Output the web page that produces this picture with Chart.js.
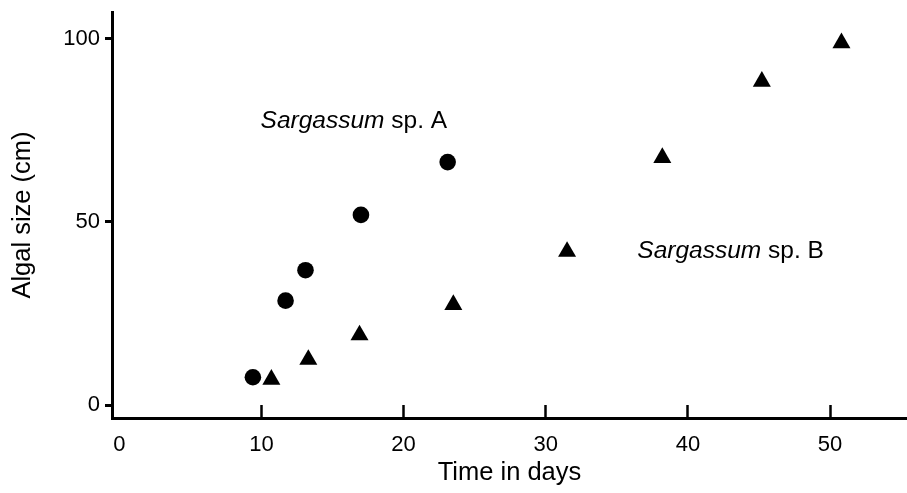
<!DOCTYPE html>
<html>
<head>
<meta charset="utf-8">
<script src="https://cdn.jsdelivr.net/npm/chart.js@4.4.0/dist/chart.umd.min.js"></script>
<style>
  html, body { margin: 0; padding: 0; background: #ffffff; }
  #wrap { width: 907px; height: 493px; position: relative; }
</style>
</head>
<body>
<div id="wrap"><canvas id="c" width="907" height="493"></canvas></div>
<script>
// ---- data ----
const xTickValues = [0, 10, 20, 30, 40, 50];
const yTickValues = [0, 50, 100];

const speciesA_days = [9.4, 11.7, 13.1, 17.0, 23.1];
const speciesA_size = [7.6, 28.5, 36.8, 51.9, 66.3];

const speciesB_days = [10.7, 13.3, 16.9, 23.5, 31.5, 38.2, 45.2, 50.8];
const speciesB_size = [7.0, 12.4, 19.1, 27.4, 41.9, 67.5, 88.3, 98.8];

const xTitle = 'Time in days';
const yTitle = 'Algal size (cm)';
const labelA = ['Sargassum', ' sp. A'];
const labelB = ['Sargassum', ' sp. B'];

// ---- build chart ----
const FONT = '"Liberation Sans", Arial, Helvetica, sans-serif';
const toPoints = (xs, ys) => xs.map((x, i) => ({ x: x, y: ys[i] }));

const annotations = [
  { x: 16.5, y: 77.5, parts: labelA },
  { x: 43.0, y: 42.0, parts: labelB }
];

const textPlugin = {
  id: 'speciesLabels',
  afterDatasetsDraw(chart) {
    const ctx = chart.ctx;
    const xs = chart.scales.x, ys = chart.scales.y;
    ctx.save();
    ctx.fillStyle = '#000';
    ctx.textBaseline = 'middle';
    ctx.textAlign = 'left';
    const fItal = 'italic 24.5px ' + FONT;
    const fNorm = '24.5px ' + FONT;
    annotations.forEach(a => {
      ctx.font = fItal;
      const w1 = ctx.measureText(a.parts[0]).width;
      ctx.font = fNorm;
      const w2 = ctx.measureText(a.parts[1]).width;
      const cx = xs.getPixelForValue(a.x);
      const cy = ys.getPixelForValue(a.y);
      const left = cx - (w1 + w2) / 2;
      ctx.font = fItal;
      ctx.fillText(a.parts[0], left, cy);
      ctx.font = fNorm;
      ctx.fillText(a.parts[1], left + w1, cy);
    });
    ctx.restore();
  }
};

new Chart(document.getElementById('c'), {
  type: 'scatter',
  data: {
    datasets: [
      {
        label: 'Sargassum sp. A',
        data: toPoints(speciesA_days, speciesA_size),
        pointStyle: 'circle',
        pointRadius: 8.3,
        pointHoverRadius: 8.3,
        backgroundColor: '#000',
        borderColor: '#000',
        borderWidth: 0
      },
      {
        label: 'Sargassum sp. B',
        data: toPoints(speciesB_days, speciesB_size),
        pointStyle: 'triangle',
        pointRadius: 10.4,
        pointHoverRadius: 10.4,
        backgroundColor: '#000',
        borderColor: '#000',
        borderWidth: 0
      }
    ]
  },
  options: {
    responsive: false,
    devicePixelRatio: 1,
    animation: false,
    layout: { autoPadding: false, padding: { top: 12, left: 0, right: 0, bottom: 0 } },
    plugins: {
      legend: { display: false },
      tooltip: { enabled: false }
    },
    scales: {
      x: {
        type: 'linear',
        min: -0.51,
        max: 55.41,
        afterBuildTicks: s => { s.ticks = xTickValues.map(v => ({ value: v })); },
        afterFit: s => { s.height = 75; s.paddingLeft = 0; s.paddingRight = 0; },
        border: { display: true, color: '#000', width: 3 },
        grid: {
          drawOnChartArea: false,
          drawTicks: true,
          tickLength: -13,
          tickWidth: 2.5,
          tickColor: c => (c.tick && c.tick.value === 0) ? 'rgba(0,0,0,0)' : '#000'
        },
        ticks: {
          color: '#000',
          font: { family: FONT, size: 22 },
          padding: 27,
          maxRotation: 0,
          autoSkip: false
        },
        title: {
          display: true,
          text: xTitle,
          color: '#000',
          font: { family: FONT, size: 25.5 },
          padding: { top: 0, bottom: 5 }
        }
      },
      y: {
        type: 'linear',
        min: -3.52,
        max: 107.26,
        afterBuildTicks: s => { s.ticks = yTickValues.map(v => ({ value: v })); },
        afterFit: s => { s.width = 112; s.paddingTop = 0; s.paddingBottom = 0; },
        border: { display: true, color: '#000', width: 3 },
        grid: {
          drawOnChartArea: false,
          drawTicks: true,
          tickLength: 7,
          tickWidth: 3,
          tickColor: '#000'
        },
        ticks: {
          color: '#000',
          font: { family: FONT, size: 22 },
          padding: 5
        },
        title: {
          display: true,
          text: yTitle,
          color: '#000',
          font: { family: FONT, size: 25.5 },
          padding: { top: 8, bottom: 0 }
        }
      }
    }
  },
  plugins: [textPlugin]
});
</script>
</body>
</html>
